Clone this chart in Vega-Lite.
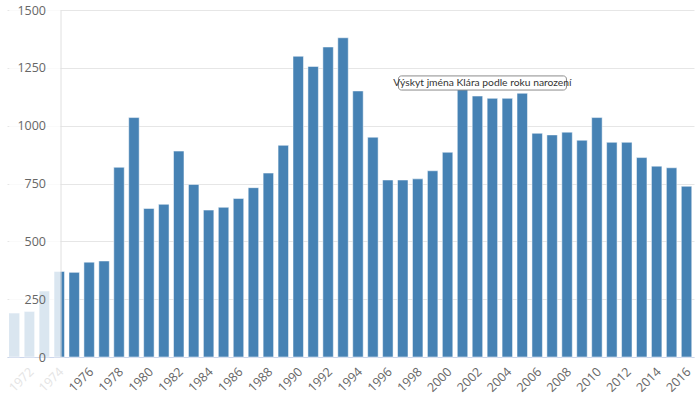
{
  "$schema": "https://vega.github.io/schema/vega-lite/v6.json",
  "width": 687,
  "height": 347,
  "autosize": {"type": "none"},
  "padding": {"left": 7, "top": 10, "right": 6, "bottom": 45},
  "background": "white",
  "config": {"view": {"stroke": null}, "font": "Open Sans"},
  "datasets": {
    "births": [
      {"year": 1971, "count": 190}, {"year": 1972, "count": 197}, {"year": 1973, "count": 285},
      {"year": 1974, "count": 370}, {"year": 1975, "count": 366}, {"year": 1976, "count": 410},
      {"year": 1977, "count": 415}, {"year": 1978, "count": 820}, {"year": 1979, "count": 1035},
      {"year": 1980, "count": 642}, {"year": 1981, "count": 660}, {"year": 1982, "count": 890},
      {"year": 1983, "count": 746}, {"year": 1984, "count": 635}, {"year": 1985, "count": 647},
      {"year": 1986, "count": 685}, {"year": 1987, "count": 732}, {"year": 1988, "count": 795},
      {"year": 1989, "count": 915}, {"year": 1990, "count": 1300}, {"year": 1991, "count": 1256},
      {"year": 1992, "count": 1340}, {"year": 1993, "count": 1380}, {"year": 1994, "count": 1150},
      {"year": 1995, "count": 950}, {"year": 1996, "count": 765}, {"year": 1997, "count": 765},
      {"year": 1998, "count": 770}, {"year": 1999, "count": 805}, {"year": 2000, "count": 885},
      {"year": 2001, "count": 1165}, {"year": 2002, "count": 1128}, {"year": 2003, "count": 1118},
      {"year": 2004, "count": 1118}, {"year": 2005, "count": 1140}, {"year": 2006, "count": 967},
      {"year": 2007, "count": 960}, {"year": 2008, "count": 972}, {"year": 2009, "count": 937},
      {"year": 2010, "count": 1035}, {"year": 2011, "count": 928}, {"year": 2012, "count": 928},
      {"year": 2013, "count": 862}, {"year": 2014, "count": 825}, {"year": 2015, "count": 818},
      {"year": 2016, "count": 738}
    ],
    "shade": [{"from": 1971, "to": 1974}],
    "tip": [{"year": 2002, "label": "Výskyt jména Klára podle roku narození"}]
  },
  "resolve": {"axis": {"y": "independent"}},
  "layer": [
    {
      "data": {"name": "births"},
      "mark": {"type": "bar", "color": "#4682b4", "stroke": "white", "strokeWidth": 0.5},
      "encoding": {
        "x": {
          "field": "year", "type": "ordinal", "title": null,
          "scale": {"paddingInner": 0.3, "paddingOuter": 0.15},
          "axis": {
            "values": [1972,1974,1976,1978,1980,1982,1984,1986,1988,1990,1992,1994,1996,1998,2000,2002,2004,2006,2008,2010,2012,2014,2016],
            "labelAngle": -45, "ticks": false, "domainColor": "#ccd6eb", "grid": false,
            "labelColor": {"condition": {"test": "datum.value < 1975", "value": "#e4e4e4"}, "value": "#666666"},
            "labelFontSize": 12.5, "labelPadding": 8, "labelOffset": -2, "labelOverlap": false, "labelBound": false
          }
        },
        "y": {
          "field": "count", "type": "quantitative", "title": null,
          "scale": {"domain": [0, 1500], "nice": false},
          "axis": {
            "orient": "left", "values": [0, 250, 500, 750, 1000, 1250, 1500],
            "grid": true, "gridColor": "#e6e6e6", "labels": false, "domain": false,
            "ticks": false, "zindex": 0
          }
        }
      }
    },
    {
      "data": {"name": "shade"},
      "mark": {"type": "rect", "fill": "white", "opacity": 0.8},
      "encoding": {
        "x": {"field": "from", "type": "ordinal", "bandPosition": 0, "title": null},
        "x2": {"field": "to", "bandPosition": 0.62},
        "y": {
          "datum": 1500, "type": "quantitative", "title": null,
          "axis": {
            "orient": "left", "values": [0, 250, 500, 750, 1000, 1250, 1500], "format": "d",
            "grid": false, "ticks": false, "offset": -53.5, "domainColor": "#e0e0e0",
            "labelColor": "#666666", "labelFontSize": 12.5, "labelPadding": 15, "zindex": 1
          }
        },
        "y2": {"datum": 0}
      }
    },
    {
      "data": {"name": "tip"},
      "mark": {"type": "bar", "width": 168, "xOffset": 5, "fill": "white", "stroke": "#8c8c8c", "strokeWidth": 1, "cornerRadius": 3},
      "encoding": {
        "x": {"field": "year", "type": "ordinal", "title": null},
        "y": {"datum": 1215, "axis": null},
        "y2": {"datum": 1154}
      }
    },
    {
      "data": {"name": "tip"},
      "mark": {"type": "text", "xOffset": 5, "font": "Lato", "fontSize": 10.3, "color": "#333333", "baseline": "middle"},
      "encoding": {
        "x": {"field": "year", "type": "ordinal", "title": null},
        "y": {"datum": 1185, "axis": null},
        "text": {"field": "label"}
      }
    }
  ]
}
